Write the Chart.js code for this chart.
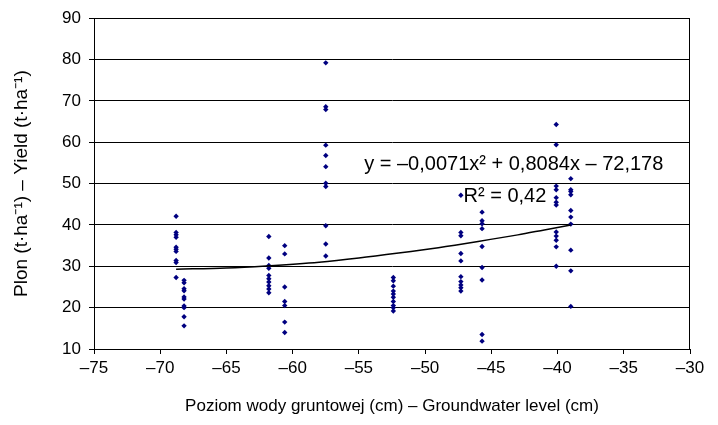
<!DOCTYPE html>
<html>
<head>
<meta charset="utf-8">
<script src="https://cdn.jsdelivr.net/npm/chart.js@4/dist/chart.umd.min.js"></script>
<style>
  html, body { margin: 0; padding: 0; background: #ffffff; }
  #wrap { width: 718px; height: 425px; position: relative; }
</style>
</head>
<body>
<div id="wrap"><canvas id="c" width="718" height="425"></canvas></div>
<script>
// Groundwater level clusters (x) and yields (y)
const xLevels = [-68.8, -68.2, -61.8, -60.6, -57.5, -52.4, -47.3, -45.7, -40.1, -39.0];
const yields = [
  [42.1, 38.2, 37.6, 37.0, 34.6, 34.1, 33.6, 31.4, 30.9, 27.3],
  [26.6, 26.0, 24.6, 24.1, 22.6, 22.1, 20.4, 20.0, 17.8, 15.6],
  [37.2, 32.0, 30.2, 29.5, 27.8, 27.0, 26.2, 25.3, 24.5, 23.6],
  [35.0, 33.0, 25.0, 21.5, 20.5, 16.5, 14.0],
  [79.2, 68.6, 67.9, 59.3, 56.8, 54.1, 50.1, 49.3, 39.8, 35.4, 32.5],
  [27.3, 26.5, 25.2, 24.0, 23.3, 22.5, 21.5, 20.5, 20.0, 19.2],
  [47.2, 38.2, 37.4, 33.1, 31.3, 27.5, 26.3, 25.5, 24.8, 24.0],
  [43.1, 41.0, 40.3, 39.1, 34.8, 29.7, 26.7, 13.5, 11.9],
  [64.3, 59.4, 49.4, 48.5, 46.6, 45.5, 44.8, 38.3, 37.3, 36.3, 34.7, 30.0],
  [51.2, 48.5, 48.1, 47.3, 43.5, 41.9, 40.2, 33.9, 28.9, 20.3]
];
// Trend line points
const trendX = [-68.8, -65, -62, -58, -55, -52, -49, -46, -43, -41, -39.0];
const trendY = [29.3, 29.6, 30.1, 31.0, 32.0, 33.2, 34.5, 36.0, 37.6, 38.8, 40.0];
// Axis ticks
const xTicks = [-75, -70, -65, -60, -55, -50, -45, -40, -35, -30];
const yTicks = [10, 20, 30, 40, 50, 60, 70, 80, 90];
// Texts
const xTitle = 'Poziom wody gruntowej (cm) \u2013 Groundwater level (cm)';
const yTitle = 'Plon (t\u00b7ha\u207b\u00b9) \u2013 Yield (t\u00b7ha\u207b\u00b9)';
const eqText = 'y = \u20130,0071x\u00b2 + 0,8084x \u2013 72,178';
const r2Text = 'R\u00b2 = 0,42';
const eqAnchor = [-54.6, 54.7];
const r2Anchor = [-47.1, 47.0];

const points = [];
xLevels.forEach((x, i) => yields[i].forEach(y => points.push({x: x, y: y})));
const trend = trendX.map((x, i) => ({x: x, y: trendY[i]}));

const FONT = 'Liberation Sans, Arial, sans-serif';
const minus = v => (v < 0 ? '\u2013' + Math.abs(v) : String(v));

const labelsPlugin = {
  id: 'labels',
  afterDatasetsDraw(chart) {
    const {ctx, scales} = chart;
    ctx.save();
    ctx.fillStyle = '#000';
    ctx.font = '20px ' + FONT;
    ctx.textBaseline = 'middle';
    ctx.textAlign = 'left';
    ctx.fillText(eqText, scales.x.getPixelForValue(eqAnchor[0]), scales.y.getPixelForValue(eqAnchor[1]));
    ctx.fillText(r2Text, scales.x.getPixelForValue(r2Anchor[0]), scales.y.getPixelForValue(r2Anchor[1]));
    ctx.restore();
  }
};

const borderPlugin = {
  id: 'border',
  afterDraw(chart) {
    const a = chart.chartArea, ctx = chart.ctx;
    ctx.save();
    ctx.strokeStyle = '#000';
    ctx.lineWidth = 1;
    ctx.strokeRect(Math.round(a.left) + 0.5, Math.round(a.top) + 0.5, Math.round(a.right - a.left) - 1, Math.round(a.bottom - a.top));
    ctx.restore();
  }
};

new Chart(document.getElementById('c'), {
  type: 'scatter',
  data: {
    datasets: [
      {
        data: points,
        pointStyle: 'rectRot',
        pointRadius: 2.7,
        pointHoverRadius: 2.7,
        backgroundColor: '#000080',
        borderColor: '#000080',
        borderWidth: 0,
        showLine: false,
        order: 2
      },
      {
        data: trend,
        showLine: true,
        pointRadius: 0,
        borderColor: '#000',
        borderWidth: 1.5,
        cubicInterpolationMode: 'monotone',
        fill: false,
        order: 1
      }
    ]
  },
  options: {
    responsive: false,
    animation: false,
    devicePixelRatio: 1,
    layout: { padding: { top: 16, right: 28, left: 0, bottom: 0 } },
    plugins: { legend: { display: false }, tooltip: { enabled: false } },
    scales: {
      x: {
        type: 'linear',
        min: -75, max: -30,
        afterBuildTicks: s => { s.ticks = xTicks.map(v => ({value: v})); },
        afterFit: s => { s.height = 76; },
        grid: { drawOnChartArea: false, drawTicks: true, tickLength: 5, color: '#000', tickColor: '#000' },
        border: { display: true, color: '#000', width: 1 },
        ticks: { color: '#000', font: { family: FONT, size: 17 }, padding: 4, maxRotation: 0, callback: v => minus(v) },
        title: { display: true, text: xTitle, color: '#000', font: { family: FONT, size: 17 }, padding: { top: 8, bottom: 8 } }
      },
      y: {
        type: 'linear',
        min: 10, max: 90,
        afterBuildTicks: s => { s.ticks = yTicks.map(v => ({value: v})); },
        afterFit: s => { s.width = 94; },
        grid: { drawOnChartArea: true, drawTicks: true, tickLength: 5, color: '#000', tickColor: '#000' },
        border: { display: true, color: '#000', width: 1 },
        ticks: { color: '#000', font: { family: FONT, size: 17 }, padding: 8, callback: v => String(v) },
        title: { display: true, text: yTitle, color: '#000', font: { family: FONT, size: 19 }, padding: { top: 10, bottom: 10 } }
      }
    }
  },
  plugins: [labelsPlugin, borderPlugin]
});
</script>
</body>
</html>
